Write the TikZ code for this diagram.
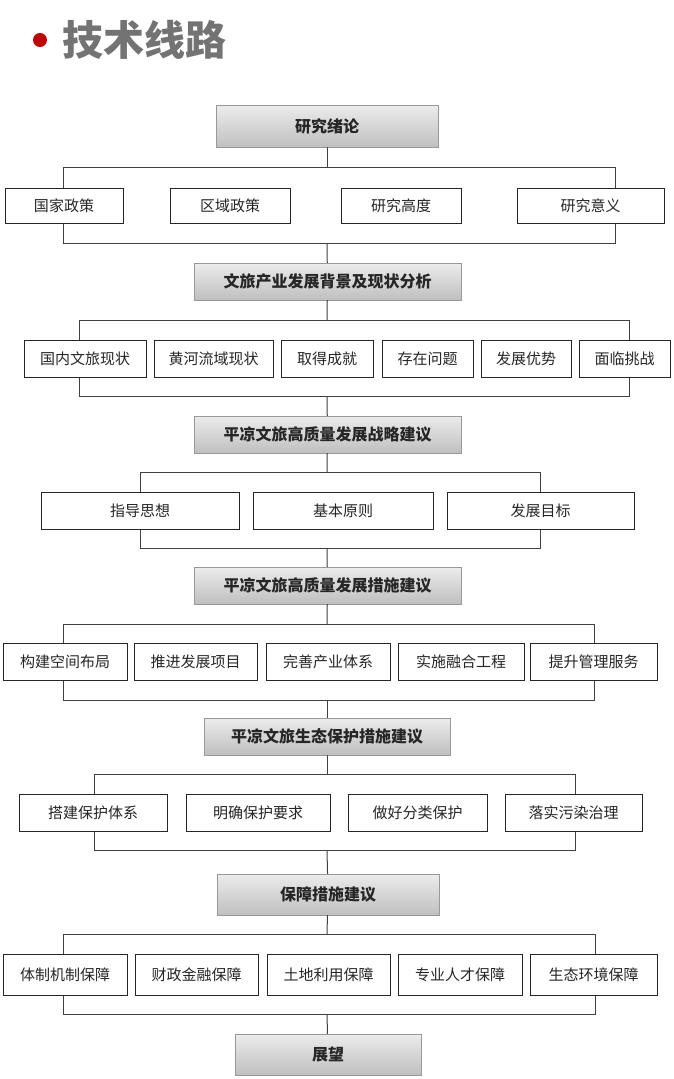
\documentclass[tikz,border=0pt]{standalone}
\usepackage{fontspec}
\setmainfont{Noto Sans CJK SC}
\tikzset{
  hdr/.style={draw=gray!80, top color=gray!15, bottom color=gray!50, inner sep=0pt, font=\bfseries\fontsize{16}{18}\selectfont, text=black!85},
  sub/.style={draw=black!85, line width=1pt, fill=white, inner sep=0pt, font=\fontsize{15}{17}\selectfont, text=black!85},
  ln/.style={draw=black!75, line width=1pt}
}
\newcommand\bx[7]{\node[#1, minimum width={#5pt-#3pt}, minimum height={#6pt-#4pt}] (#2) at ({(#3+#5)/2},{(#4+#6)/2}) {#7};}
\newcommand\brk[5]{\coordinate (#1a) at (#2,#3); \coordinate (#1b) at (#4,#5); \draw[ln] (#1a) rectangle (#1b);}
\begin{document}
\begin{tikzpicture}[x=1pt,y=-1pt]
\useasboundingbox (0,0) rectangle (674,1079);
\fill[white] (0,0) rectangle (674,1079);
\node[circle, fill=red!75!black, minimum size=14pt, inner sep=0pt] (dot) at (40,40) {};
\node[anchor=west, font=\bfseries\fontsize{41}{44}\selectfont, text=gray!90!black, inner sep=0pt] (title) at (62,40) {技术线路};
% level 1
\bx{hdr}{h1}{216}{105}{438}{147}{研究绪论}
\brk{b1}{63}{167}{615}{243}
\coordinate (t1) at (327,167); \coordinate (u1) at (327,243);
\draw[ln] (h1) -- (t1);
\bx{sub}{a1}{5}{188}{123}{223}{国家政策}
\bx{sub}{a2}{170}{188}{290}{223}{区域政策}
\bx{sub}{a3}{341}{188}{461}{223}{研究高度}
\bx{sub}{a4}{517}{188}{664}{223}{研究意义}
% level 2
\bx{hdr}{h2}{194}{263}{461}{300}{文旅产业发展背景及现状分析}
\draw[ln] (u1) -- (h2);
\brk{b2}{79}{320}{629}{396}
\coordinate (t2) at (327,320); \coordinate (u2) at (327,396);
\draw[ln] (h2) -- (t2);
\bx{sub}{c1}{24}{340}{146}{377}{国内文旅现状}
\bx{sub}{c2}{154}{340}{273}{377}{黄河流域现状}
\bx{sub}{c3}{281}{340}{373}{377}{取得成就}
\bx{sub}{c4}{382}{340}{473}{377}{存在问题}
\bx{sub}{c5}{481}{340}{571}{377}{发展优势}
\bx{sub}{c6}{579}{340}{670}{377}{面临挑战}
% level 3
\bx{hdr}{h3}{194}{416}{461}{453}{平凉文旅高质量发展战略建议}
\draw[ln] (u2) -- (h3);
\brk{b3}{140}{472}{540}{548}
\coordinate (t3) at (327,472); \coordinate (u3) at (327,548);
\draw[ln] (h3) -- (t3);
\bx{sub}{d1}{41}{492}{239}{529}{指导思想}
\bx{sub}{d2}{253}{492}{433}{529}{基本原则}
\bx{sub}{d3}{447}{492}{634}{529}{发展目标}
% level 4
\bx{hdr}{h4}{194}{567}{461}{604}{平凉文旅高质量发展措施建议}
\draw[ln] (u3) -- (h4);
\brk{b4}{63}{624}{594}{700}
\coordinate (t4) at (327,624); \coordinate (u4) at (327,700);
\draw[ln] (h4) -- (t4);
\bx{sub}{e1}{3}{643}{127}{680}{构建空间布局}
\bx{sub}{e2}{134}{643}{257}{680}{推进发展项目}
\bx{sub}{e3}{266}{643}{390}{680}{完善产业体系}
\bx{sub}{e4}{398}{643}{524}{680}{实施融合工程}
\bx{sub}{e5}{530}{643}{657}{680}{提升管理服务}
% level 5
\bx{hdr}{h5}{204}{718}{450}{755}{平凉文旅生态保护措施建议}
\draw[ln] (u4) -- (h5);
\brk{b5}{94}{774}{575}{850}
\coordinate (t5) at (327,774); \coordinate (u5) at (327,850);
\draw[ln] (h5) -- (t5);
\bx{sub}{f1}{19}{794}{167}{831}{搭建保护体系}
\bx{sub}{f2}{186}{794}{330}{831}{明确保护要求}
\bx{sub}{f3}{348}{794}{487}{831}{做好分类保护}
\bx{sub}{f4}{505}{794}{642}{831}{落实污染治理}
% level 6
\bx{hdr}{h6}{217}{874}{439}{915}{保障措施建议}
\draw[ln] (u5) -- (h6);
\brk{b6}{63}{934}{595}{1014}
\coordinate (t6) at (327,934); \coordinate (u6) at (327,1014);
\draw[ln] (h6) -- (t6);
\bx{sub}{g1}{3}{954}{127}{995}{体制机制保障}
\bx{sub}{g2}{135}{954}{258}{995}{财政金融保障}
\bx{sub}{g3}{267}{954}{390}{995}{土地利用保障}
\bx{sub}{g4}{398}{954}{522}{995}{专业人才保障}
\bx{sub}{g5}{530}{954}{657}{995}{生态环境保障}
% level 7
\bx{hdr}{h7}{235}{1034}{421}{1075}{展望}
\draw[ln] (u6) -- (h7);
\end{tikzpicture}
\end{document}
